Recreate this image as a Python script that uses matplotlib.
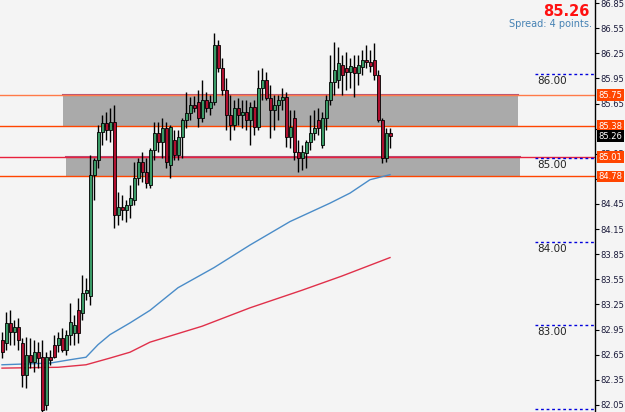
import numpy as np
import matplotlib.pyplot as plt
import matplotlib.transforms as mtransforms

# candle data (price), one candle per bar
opens = [82.83, 82.79, 83.03, 82.92, 82.98, 82.79, 82.41, 82.65, 82.56, 82.68,
         82.62, 82.05, 82.62, 82.77, 82.77, 82.85, 82.71, 82.89, 82.91, 83.18,
         83.15, 83.39, 83.35, 84.80, 84.98, 85.31, 85.42, 85.33, 85.43, 84.32,
         84.41, 84.38, 84.44, 84.50, 84.76, 84.95, 84.83, 84.68, 85.09, 85.30,
         85.19, 85.36, 84.92, 85.21, 85.04, 85.25, 85.45, 85.54, 85.63, 85.67,
         85.48, 85.69, 85.60, 85.67, 86.35, 86.07, 85.81, 85.51, 85.39, 85.60,
         85.51, 85.55, 85.45, 85.61, 85.37, 85.83, 85.93, 85.72, 85.57, 85.63,
         85.69, 85.73, 85.25, 85.48, 85.07, 85.00, 85.06, 85.19, 85.30, 85.45,
         85.15, 85.48, 85.69, 85.91, 85.93, 86.11, 86.07, 86.03, 86.09, 86.01,
         86.09, 86.17, 86.15, 86.17, 85.99, 85.45, 85.00, 85.30]
highs = [82.92, 83.16, 83.18, 83.06, 83.09, 82.85, 82.86, 82.85, 82.83, 82.80,
         82.83, 82.68, 82.71, 82.89, 82.92, 82.97, 82.94, 83.27, 83.13, 83.33,
         83.60, 83.57, 85.04, 85.00, 85.39, 85.51, 85.55, 85.60, 85.63, 84.59,
         84.56, 84.50, 84.68, 84.95, 85.00, 85.07, 85.00, 85.12, 85.43, 85.43,
         85.48, 85.43, 85.39, 85.33, 85.33, 85.48, 85.79, 85.73, 85.74, 85.81,
         85.93, 85.79, 85.75, 86.49, 86.41, 86.19, 85.95, 85.75, 85.69, 85.72,
         85.69, 85.69, 85.67, 85.69, 86.05, 86.07, 86.03, 85.87, 85.75, 85.75,
         85.83, 85.79, 85.57, 85.57, 85.21, 85.15, 85.21, 85.51, 85.57, 85.60,
         85.55, 85.75, 86.23, 86.39, 86.33, 86.23, 86.27, 86.19, 86.23, 86.23,
         86.29, 86.35, 86.29, 86.37, 86.05, 85.48, 85.36, 85.36]
lows = [82.61, 82.71, 82.77, 82.77, 82.71, 82.26, 82.25, 82.49, 82.44, 82.49,
        81.97, 81.99, 82.53, 82.61, 82.68, 82.68, 82.65, 82.77, 82.77, 82.79,
        83.06, 83.30, 83.24, 84.50, 84.88, 85.15, 85.21, 85.19, 84.16, 84.20,
        84.26, 84.24, 84.28, 84.44, 84.68, 84.71, 84.64, 84.64, 84.98, 85.07,
        85.00, 84.88, 84.76, 84.98, 84.98, 85.00, 85.36, 85.45, 85.55, 85.37,
        85.43, 85.55, 85.51, 85.63, 86.03, 85.75, 85.33, 85.21, 85.33, 85.39,
        85.36, 85.33, 85.15, 85.27, 85.33, 85.69, 85.69, 85.24, 85.33, 85.45,
        85.57, 85.13, 85.12, 84.98, 84.83, 84.86, 84.88, 85.09, 85.21, 85.27,
        85.12, 85.33, 85.63, 85.75, 85.83, 85.75, 85.81, 85.83, 85.73, 85.87,
        85.99, 86.07, 86.03, 85.93, 85.43, 84.94, 84.95, 85.12]
closes = [82.68, 83.03, 82.92, 82.98, 82.83, 82.41, 82.65, 82.56, 82.68, 82.61,
          81.99, 82.62, 82.59, 82.62, 82.85, 82.71, 82.89, 83.04, 83.01, 82.91,
          83.39, 83.42, 84.80, 84.98, 85.31, 85.42, 85.33, 85.43, 84.32, 84.41,
          84.38, 84.44, 84.52, 84.76, 84.95, 84.83, 84.70, 85.09, 85.30, 85.19,
          85.36, 84.95, 85.37, 85.04, 85.25, 85.45, 85.54, 85.63, 85.60, 85.48,
          85.69, 85.60, 85.67, 86.35, 86.07, 85.81, 85.51, 85.39, 85.60, 85.51,
          85.55, 85.45, 85.61, 85.37, 85.83, 85.93, 85.72, 85.57, 85.63, 85.69,
          85.73, 85.25, 85.37, 85.07, 85.00, 85.07, 85.19, 85.30, 85.36, 85.36,
          85.48, 85.69, 85.91, 86.05, 86.13, 85.99, 86.03, 86.10, 86.01, 86.11,
          86.17, 86.15, 86.10, 85.99, 85.45, 85.00, 85.30, 85.26]

# moving averages, read at some bars
ma_blue_idx = [0, 12, 17, 21, 24, 27, 32, 37, 44, 53, 62, 72, 82, 87, 92, 97]
ma_blue = [82.53, 82.55, 82.59, 82.62, 82.77, 82.89, 83.03, 83.18, 83.45, 83.69,
           83.96, 84.24, 84.46, 84.58, 84.74, 84.80]
ma_red_idx = [0, 14, 21, 27, 32, 37, 50, 62, 75, 85, 97]
ma_red = [82.49, 82.50, 82.53, 82.61, 82.68, 82.80, 82.99, 83.21, 83.42, 83.59, 83.81]

# zones and levels
zones = [(85.38, 85.75, 15.25, 129.0), (84.78, 85.01, 16.0, 129.5)]
levels = [85.75, 85.38, 85.01, 84.78]
level_colors = ["#ff7a48", "#ff4500", "#e8203c", "#ff4500"]
round_levels = [86.00, 85.00, 84.00, 83.00, 82.00]
round_labels = ["86.00", "85.00", "84.00", "83.00", ""]
yticks = [82.05, 82.35, 82.65, 82.95, 83.25, 83.55, 83.85, 84.15, 84.45,
          84.75, 85.05, 85.35, 85.65, 85.95, 86.25, 86.55, 86.85]
last_price = 85.26

bg = "#f4f4f4"
fig = plt.figure(figsize=(6.25, 4.12), dpi=100, facecolor=bg)
ax = fig.add_axes([0, 0, 595 / 625, 1], facecolor=bg)
ax.set_xlim(-0.5, 148.25)
ax.set_ylim(81.966, 86.886)

# zones
for lo, hi, x0, x1 in zones:
    ax.fill_between([x0, x1], lo, hi, color="#aaaaaa", lw=0, zorder=1)
    ax.plot([x0, x1], [hi, hi], color="#b0507a", lw=1.5, zorder=2)

for lv, col in zip(levels, level_colors):
    ax.axhline(lv, color=col, lw=1.0, zorder=2)

# round number lines
for lv, lab in zip(round_levels, round_labels):
    ax.plot([133.25, 148.25], [lv, lv], color="#0000dd", lw=1.0,
            linestyle=(0, (2, 2)), zorder=3)
    if lab:
        ax.annotate(lab, (133.9, lv), xytext=(0, -5), textcoords="offset points",
                    fontsize=7.5, color="#222222", va="center", ha="left")

# moving averages
ax.plot(ma_blue_idx, ma_blue, color="#4a8cc8", lw=1.0, zorder=3)
ax.plot(ma_red_idx, ma_red, color="#e0304a", lw=1.0, zorder=3)

# candles
x = np.arange(len(closes))
o = np.array(opens)
c = np.array(closes)
ax.vlines(x, lows, highs, color="black", lw=1.0, zorder=4)
up = c >= o
body = np.where(np.abs(c - o) < 0.01, 0.01, c - o)
ax.bar(x[up], body[up], bottom=o[up], width=0.75, color="#3a9a66",
       edgecolor="black", linewidth=0.6, zorder=5)
ax.bar(x[~up], body[~up], bottom=o[~up], width=0.75, color="#b01030",
       edgecolor="black", linewidth=0.6, zorder=5)

# axes look
for s in ["top", "left", "bottom"]:
    ax.spines[s].set_visible(False)
ax.spines["right"].set_color("black")
ax.spines["right"].set_linewidth(1.0)
ax.set_xticks([])
ax.yaxis.tick_right()
ax.set_yticks(yticks)
ax.set_yticklabels([f"{v:.2f}" for v in yticks])
ax.tick_params(axis="y", length=3, width=0.8, pad=1, labelsize=6,
               labelcolor="#1a1a3a", color="black")

# price labels on axis
trans = mtransforms.blended_transform_factory(ax.transAxes, ax.transData)
for lv in levels:
    ax.text(1.006, lv, f"{lv:.2f}", transform=trans, fontsize=6, color="white",
            va="center", ha="left", zorder=10, clip_on=False,
            bbox=dict(boxstyle="square,pad=0.15", fc="#ff4500", ec="none"))
ax.text(1.006, last_price, f"{last_price:.2f}", transform=trans, fontsize=6,
        color="white", va="center", ha="left", zorder=10, clip_on=False,
        bbox=dict(boxstyle="square,pad=0.15", fc="black", ec="none"))

# header text
fig.text(590 / 625, 1 - 12 / 412, f"{last_price:.2f}", color="#ff1010",
         fontsize=10.5, fontweight="bold", ha="right", va="center")
fig.text(592 / 625, 1 - 24 / 412, "Spread: 4 points.", color="#4682b4",
         fontsize=7, ha="right", va="center")

fig.savefig("out.png", dpi=100, facecolor=bg)
